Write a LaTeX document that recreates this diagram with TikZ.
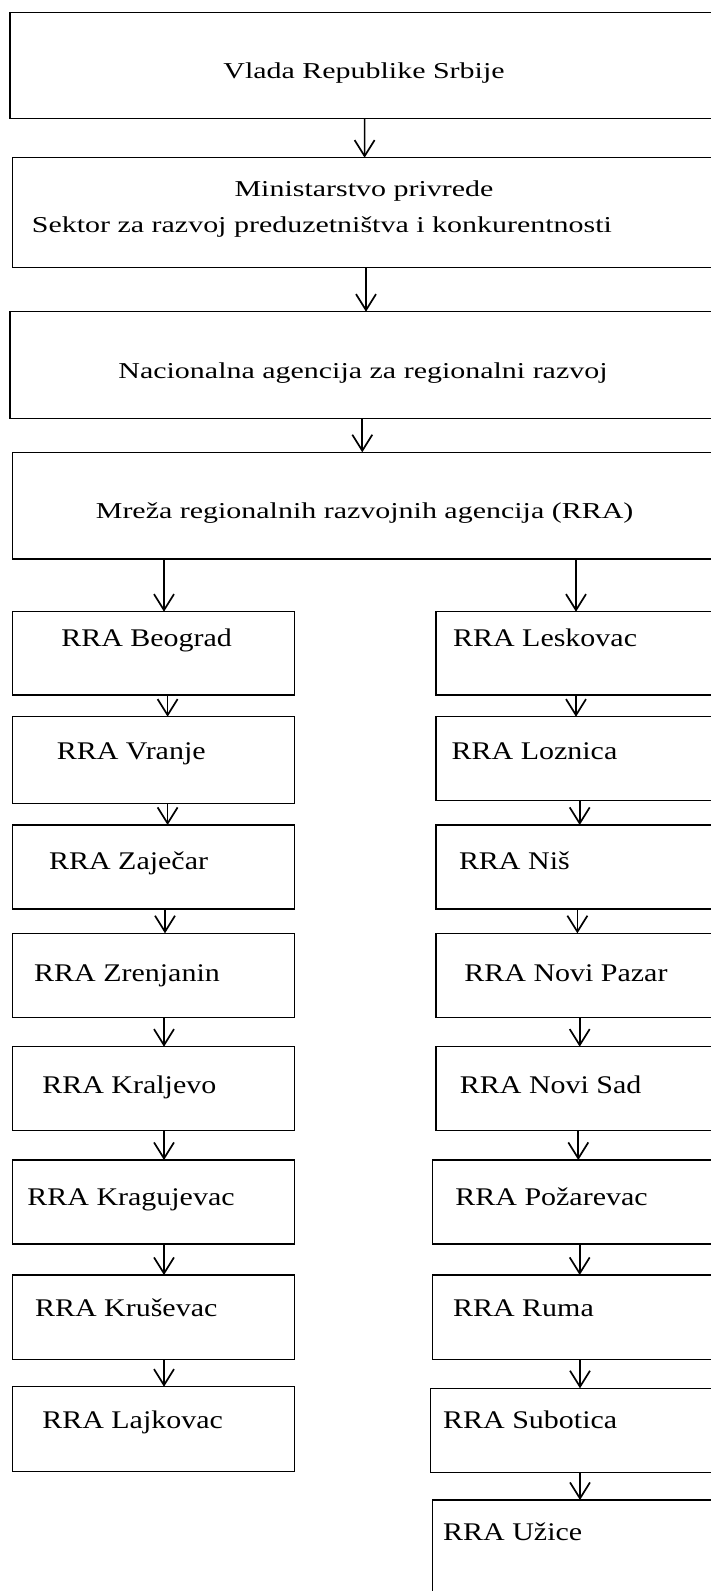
\documentclass[tikz,border=0pt]{standalone}
\usepackage{fontspec}
\usetikzlibrary{arrows.meta}
\newfontfamily\topfont{Liberation Serif}[FakeStretch=1.32]
\newfontfamily\rrafont{Liberation Serif}[FakeStretch=1.18]
\tikzset{
  box/.style={draw, line width=1.3pt, inner sep=0pt, outer sep=0pt, anchor=north west},
  lbox/.style={box, minimum width=282.2pt},
  rbox/.style={box, minimum width=300pt},
  arr/.style={line width=1.7pt, -{Straight Barb[length=16pt,width=20pt]}},
  toptxt/.style={inner sep=0pt, anchor=base, font=\topfont\fontsize{22.7}{27}\selectfont},
  toptxtl/.style={toptxt, anchor=base west},
  rratxt/.style={inner sep=0pt, anchor=base west, font=\rrafont\fontsize{25.4}{30}\selectfont}
}
\begin{document}
\begin{tikzpicture}[x=1pt,y=-1pt]
\useasboundingbox (0,0) rectangle (710,1591);
% top boxes
\node[box, minimum width=708pt, minimum height=106pt] (b1) at (10,12.3) {};
\node[box, minimum width=706pt, minimum height=110pt] (b2) at (12.2,157.7) {};
\node[box, minimum width=708pt, minimum height=106.6pt] (b3) at (10,311.7) {};
\node[box, minimum width=706pt, minimum height=106.7pt] (b4) at (12.2,452.3) {};
\node[toptxt] (t1) at (364,78.3) {Vlada Republike Srbije};
\node[toptxt] (t2a) at (364,196.7) {Ministarstvo privrede};
\node[toptxtl] (t2b) at (31.7,232.7) {Sektor za razvoj preduzetništva i konkurentnosti};
\node[toptxt] (t3) at (363,378.3) {Nacionalna agencija za regionalni razvoj};
\node[toptxt] (t4) at (364.6,518.3) {Mreža regionalnih razvojnih agencija (RRA)};
% left column
\node[lbox, minimum height=83.3pt] (L1) at (12.2,611.7) {};
\node[lbox, minimum height=86.6pt] (L2) at (12.2,716.7) {};
\node[lbox, minimum height=84pt] (L3) at (12.2,825) {};
\node[lbox, minimum height=84pt] (L4) at (12.2,933.3) {};
\node[lbox, minimum height=84pt] (L5) at (12.2,1046.7) {};
\node[lbox, minimum height=84pt] (L6) at (12.2,1160) {};
\node[lbox, minimum height=84.3pt] (L7) at (12.2,1275) {};
\node[lbox, minimum height=85pt] (L8) at (12.2,1386.7) {};
\node[rratxt] (tl1) at (61.1,646.7) {RRA Beograd};
\node[rratxt] (tl2) at (56.6,759.3) {RRA Vranje};
\node[rratxt] (tl3) at (48.9,869.3) {RRA Zaječar};
\node[rratxt] (tl4) at (34,981.7) {RRA Zrenjanin};
\node[rratxt] (tl5) at (42.1,1093.3) {RRA Kraljevo};
\node[rratxt] (tl6) at (27.2,1205.7) {RRA Kragujevac};
\node[rratxt] (tl7) at (34.9,1316.7) {RRA Kruševac};
\node[rratxt] (tl8) at (42.1,1428.3) {RRA Lajkovac};
% right column
\node[rbox, minimum height=83.3pt] (R1) at (436.1,611.7) {};
\node[rbox, minimum height=83.6pt] (R2) at (436.1,716.7) {};
\node[rbox, minimum height=84pt] (R3) at (436.1,825) {};
\node[rbox, minimum height=84pt] (R4) at (436.1,933.3) {};
\node[rbox, minimum height=84pt] (R5) at (436.1,1046.7) {};
\node[rbox, minimum height=84pt] (R6) at (432.5,1160) {};
\node[rbox, minimum height=84.3pt] (R7) at (432.5,1275) {};
\node[rbox, minimum height=84pt] (R8) at (430.3,1388.3) {};
\node[rbox, minimum height=120pt] (R9) at (432.3,1500) {};
\node[rratxt] (tr1) at (452.9,646.7) {RRA Leskovac};
\node[rratxt] (tr2) at (451.5,759.3) {RRA Loznica};
\node[rratxt] (tr3) at (458.8,869.3) {RRA Niš};
\node[rratxt] (tr4) at (464.2,981.7) {RRA Novi Pazar};
\node[rratxt] (tr5) at (459.7,1093.3) {RRA Novi Sad};
\node[rratxt] (tr6) at (455.2,1205.7) {RRA Požarevac};
\node[rratxt] (tr7) at (452.9,1316.7) {RRA Ruma};
\node[rratxt] (tr8) at (443,1428.3) {RRA Subotica};
\node[rratxt] (tr9) at (443,1540) {RRA Užice};
% arrows top
\draw[arr] ([xshift=354.6pt]b1.south west) -- ([xshift=352.4pt]b2.north west);
\draw[arr] ([xshift=353.8pt]b2.south west) -- ([xshift=356pt]b3.north west);
\draw[arr] ([xshift=352.3pt]b3.south west) -- ([xshift=350.1pt]b4.north west);
\draw[arr] ([xshift=151.8pt]b4.south west) -- ([xshift=151.8pt]L1.north west);
\draw[arr] ([xshift=563.8pt]b4.south west) -- ([xshift=139.9pt]R1.north west);
% left chain
\draw[arr] ([xshift=155.4pt]L1.south west) -- ([xshift=155.4pt]L2.north west);
\draw[arr] ([xshift=155.4pt]L2.south west) -- ([xshift=155.4pt]L3.north west);
\draw[arr] ([xshift=152.8pt]L3.south west) -- ([xshift=152.8pt]L4.north west);
\draw[arr] ([xshift=151.8pt]L4.south west) -- ([xshift=151.8pt]L5.north west);
\draw[arr] ([xshift=151.8pt]L5.south west) -- ([xshift=151.8pt]L6.north west);
\draw[arr] ([xshift=151.8pt]L6.south west) -- ([xshift=151.8pt]L7.north west);
\draw[arr] ([xshift=151.8pt]L7.south west) -- ([xshift=151.8pt]L8.north west);
% right chain
\draw[arr] ([xshift=139.9pt]R1.south west) -- ([xshift=139.9pt]R2.north west);
\draw[arr] ([xshift=143.6pt]R2.south west) -- ([xshift=143.6pt]R3.north west);
\draw[arr] ([xshift=141.3pt]R3.south west) -- ([xshift=141.3pt]R4.north west);
\draw[arr] ([xshift=143.6pt]R4.south west) -- ([xshift=143.6pt]R5.north west);
\draw[arr] ([xshift=142.2pt]R5.south west) -- ([xshift=145.8pt]R6.north west);
\draw[arr] ([xshift=147.2pt]R6.south west) -- ([xshift=147.2pt]R7.north west);
\draw[arr] ([xshift=147.5pt]R7.south west) -- ([xshift=149.7pt]R8.north west);
\draw[arr] ([xshift=149.7pt]R8.south west) -- ([xshift=147.7pt]R9.north west);
\end{tikzpicture}
\end{document}
